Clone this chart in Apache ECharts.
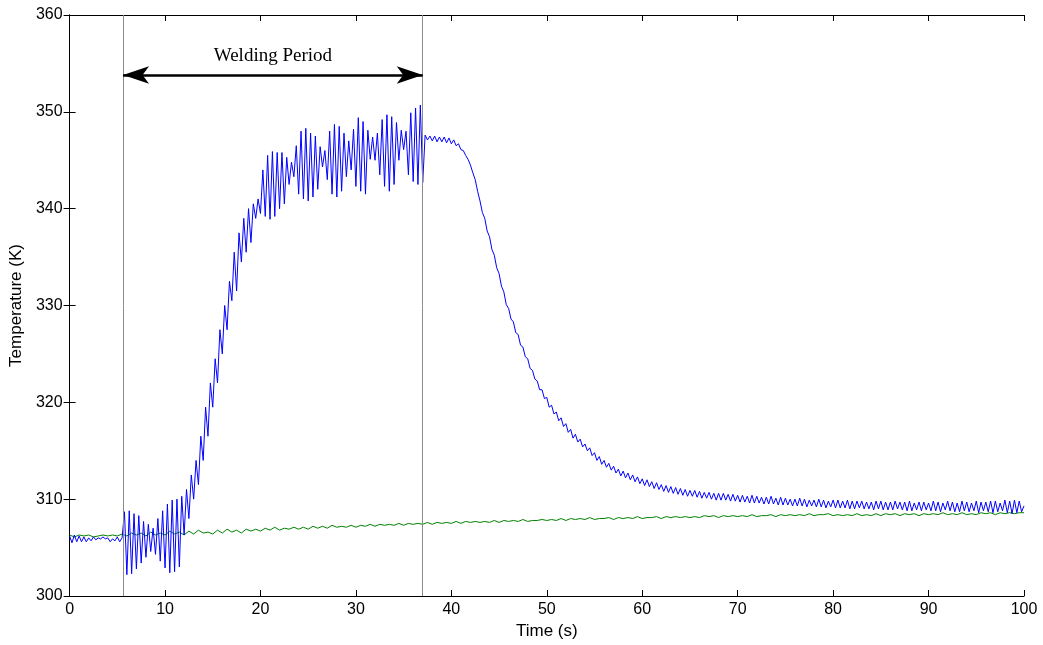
<!DOCTYPE html>
<html>
<head>
<meta charset="utf-8">
<script src="https://cdn.jsdelivr.net/npm/echarts@6/dist/echarts.min.js"></script>
<style>
html,body{margin:0;padding:0;background:#fff;}
#chart{width:1043px;height:645px;}
</style>
</head>
<body>
<div id="chart"></div>
<script>
// ---- data ----
const xTicks = [0, 10, 20, 30, 40, 50, 60, 70, 80, 90, 100];
const yTicks = [300, 310, 320, 330, 340, 350, 360];
const blueStep = 0.25;   // s between blue samples
const greenStep = 0.5;   // s between green samples
const weldingPeriod = [5.6, 37.0];   // s, grey vertical lines
const arrowLevel = 353.8;            // K, height of the double arrow
const weldingLabel = 'Welding Period';

const blueTemp = [
  306.2, 305.5, 306.3, 305.6,  306.2, 305.6, 306.1, 305.6,  306.0, 305.7, 306.1, 305.8,
  306.0, 305.9, 306.1, 305.9,  306.0, 305.6, 305.9, 305.7,  306.1, 305.6, 306.0, 308.7,
  302.2, 308.8, 302.3, 308.5,  302.8, 308.3, 303.4, 307.7,  304.0, 307.4, 304.6, 307.0,
  304.3, 308.0, 303.6, 308.8,  302.9, 309.5, 302.4, 309.9,  302.5, 310.0, 303.0, 310.3,
  306.3, 311.0, 308.0, 312.5,  310.0, 314.0, 311.5, 316.5,  314.0, 319.5, 316.5, 322.0,
  319.5, 324.5, 322.0, 327.5,  325.0, 330.0, 327.5, 332.5,  330.5, 335.5, 331.5, 337.5,
  334.5, 339.0, 335.5, 340.0,  336.5, 340.5, 339.0, 341.0,  339.5, 344.0, 339.2, 345.5,
  338.9, 345.9, 339.2, 345.8,  340.0, 345.8, 340.5, 345.3,  342.5, 344.8, 343.3, 346.5,
  341.5, 348.0, 341.0, 348.3,  340.8, 347.8, 341.2, 347.5,  342.0, 346.4, 344.3, 346.0,
  343.0, 348.0, 341.5, 348.7,  341.2, 348.5, 341.8, 347.8,  343.3, 347.0, 344.0, 348.2,
  342.3, 349.4, 341.8, 349.0,  341.5, 348.1, 345.1, 347.4,  345.0, 347.8, 343.5, 349.2,
  342.3, 349.7, 341.8, 349.5,  342.5, 348.9, 345.0, 348.1,  346.1, 348.0, 343.5, 349.9,
  342.8, 350.4, 342.5, 350.7,  342.7, 347.6, 347.1, 347.5,  347.0, 347.5, 346.9, 347.4,
  346.9, 347.4, 346.8, 347.3,  346.7, 347.1, 346.5, 346.7,  346.1, 346.0, 345.5, 345.1,
  344.5, 343.7, 343.0, 341.8,  340.8, 339.6, 339.0, 337.7,  337.1, 335.8, 335.2, 333.9,
  333.3, 332.0, 331.4, 330.1,  329.7, 328.6, 328.3, 327.2,  327.0, 325.9, 325.7, 324.7,
  324.5, 323.5, 323.3, 322.4,  322.2, 321.3, 321.3, 320.4,  320.5, 319.5, 319.7, 318.8,
  319.0, 318.1, 318.4, 317.5,  317.8, 316.9, 317.2, 316.3,  316.7, 315.9, 316.2, 315.4,
  315.7, 315.0, 315.3, 314.5,  314.8, 314.0, 314.4, 313.6,  314.0, 313.3, 313.7, 313.0,
  313.4, 312.7, 313.1, 312.4,  312.9, 312.2, 312.7, 312.0,  312.5, 311.8, 312.3, 311.6,
  312.1, 311.4, 312.0, 311.3,  311.8, 311.1, 311.7, 311.0,  311.5, 310.8, 311.4, 310.7,
  311.3, 310.6, 311.2, 310.5,  311.1, 310.4, 311.0, 310.3,  310.9, 310.3, 310.9, 310.2,
  310.8, 310.1, 310.7, 310.1,  310.7, 310.0, 310.6, 309.9,  310.6, 309.9, 310.6, 309.9,
  310.5, 309.8, 310.5, 309.8,  310.4, 309.7, 310.4, 309.7,  310.3, 309.6, 310.4, 309.6,
  310.3, 309.6, 310.2, 309.5,  310.2, 309.5, 310.3, 309.5,  310.1, 309.4, 310.2, 309.4,
  310.1, 309.4, 310.0, 309.3,  310.0, 309.3, 310.1, 309.3,  310.0, 309.2, 309.9, 309.3,
  309.9, 309.2, 310.0, 309.2,  309.9, 309.1, 309.8, 309.2,  309.9, 309.1, 309.9, 309.1,
  309.8, 309.1, 309.9, 309.0,  309.8, 309.0, 309.8, 309.1,  309.8, 309.0, 309.7, 309.0,
  309.7, 308.9, 309.8, 309.0,  309.8, 308.9, 309.7, 308.9,  309.7, 308.9, 309.8, 309.0,
  309.7, 308.9, 309.7, 308.8,  309.8, 308.8, 309.6, 308.9,  309.7, 308.8, 309.7, 308.9,
  309.6, 308.8, 309.8, 308.8,  309.7, 308.7, 309.6, 308.9,  309.8, 308.8, 309.7, 308.7,
  309.6, 308.7, 309.8, 308.8,  309.7, 308.7, 309.6, 308.8,  309.8, 308.6, 309.7, 308.8,
  309.7, 308.7, 309.8, 308.6,  309.8, 308.7, 309.6, 308.8,  309.9, 308.6, 309.8, 308.5,
  309.9, 308.6, 309.8, 308.7,  309.3
];

const greenTemp = [
  306.3, 306.1, 306.3, 306.2, 306.3, 306.1, 306.2, 306.3, 306.2, 306.3,
  306.2, 306.4, 306.2, 306.5, 306.3, 306.5, 306.2, 306.6, 306.3, 306.5,
  306.3, 306.7, 306.4, 306.6, 306.3, 306.7, 306.4, 306.8, 306.5, 306.6,
  306.4, 306.8, 306.5, 306.9, 306.6, 306.8, 306.5, 306.9, 306.7, 306.9,
  306.7, 307.0, 306.8, 307.1, 306.8, 307.0, 306.9, 307.1, 306.9, 307.1,
  306.9, 307.2, 307.0, 307.2, 307.0, 307.3, 307.1, 307.2, 307.1, 307.3,
  307.1, 307.3, 307.2, 307.4, 307.2, 307.4, 307.3, 307.4, 307.3, 307.5,
  307.3, 307.5, 307.4, 307.5, 307.4, 307.6, 307.4, 307.6, 307.5, 307.6,
  307.5, 307.7, 307.5, 307.7, 307.6, 307.7, 307.6, 307.7, 307.6, 307.8,
  307.6, 307.8, 307.7, 307.8, 307.7, 307.9, 307.7, 307.8, 307.8, 307.9,
  307.8, 307.9, 307.8, 308.0, 307.8, 308.0, 307.9, 308.0, 307.9, 308.1,
  307.9, 308.0, 308.0, 308.1, 307.9, 308.1, 308.0, 308.1, 308.0, 308.2,
  308.0, 308.1, 308.1, 308.2, 308.0, 308.2, 308.1, 308.2, 308.1, 308.2,
  308.1, 308.2, 308.1, 308.3, 308.2, 308.3, 308.1, 308.3, 308.2, 308.3,
  308.2, 308.3, 308.2, 308.4, 308.2, 308.3, 308.3, 308.4, 308.2, 308.4,
  308.3, 308.4, 308.3, 308.4, 308.3, 308.5, 308.3, 308.4, 308.4, 308.5,
  308.3, 308.4, 308.3, 308.4, 308.3, 308.5, 308.3, 308.4, 308.3, 308.5,
  308.3, 308.5, 308.4, 308.5, 308.3, 308.5, 308.4, 308.5, 308.3, 308.5,
  308.4, 308.5, 308.4, 308.6, 308.4, 308.5, 308.4, 308.6, 308.4, 308.5,
  308.4, 308.6, 308.5, 308.6, 308.4, 308.6, 308.5, 308.6, 308.5, 308.6,
  308.6
];

// ---- build series points (time comes from sample index) ----
const bluePoints = blueTemp.map((v, i) => [i * blueStep, v]);
const greenPoints = greenTemp.map((v, i) => [i * greenStep, v]);

const FONT = 'Liberation Sans';
const chart = echarts.init(document.getElementById('chart'), null, {renderer: 'canvas'});

const xMin = xTicks[0], xMax = xTicks[xTicks.length - 1];
const yMin = yTicks[0], yMax = yTicks[yTicks.length - 1];
const xInt = xTicks[1] - xTicks[0], yInt = yTicks[1] - yTicks[0];

const axisCommon = {
  axisLine: {show: true, lineStyle: {color: '#000', width: 1}},
  axisTick: {show: true, inside: true, length: 6, lineStyle: {color: '#000', width: 1}},
  splitLine: {show: false}
};

const greyLine = {color: '#8c8c8c', width: 1, type: 'solid'};

chart.setOption({
  animation: false,
  backgroundColor: '#fff',
  grid: {left: 69, right: 19, top: 15, bottom: 45},
  xAxis: [
    Object.assign({
      type: 'value', min: xMin, max: xMax, interval: xInt,
      name: 'Time (s)', nameLocation: 'middle', nameGap: 27,
      nameTextStyle: {fontFamily: FONT, fontSize: 17, color: '#000'},
      axisLabel: {fontFamily: FONT, fontSize: 16, color: '#000', margin: 6}
    }, axisCommon),
    Object.assign({
      type: 'value', position: 'top', min: xMin, max: xMax, interval: xInt,
      axisLabel: {show: false}
    }, axisCommon)
  ],
  yAxis: [
    Object.assign({
      type: 'value', min: yMin, max: yMax, interval: yInt,
      name: 'Temperature (K)', nameLocation: 'middle', nameGap: 41,
      nameTextStyle: {fontFamily: FONT, fontSize: 17, color: '#000'},
      axisLabel: {fontFamily: FONT, fontSize: 16, color: '#000', margin: 7}
    }, axisCommon),
    Object.assign({
      type: 'value', position: 'right', min: yMin, max: yMax, interval: yInt,
      axisLabel: {show: false}
    }, axisCommon)
  ],
  series: [
    {
      name: 'green', type: 'line', data: greenPoints, showSymbol: false, symbol: 'none',
      lineStyle: {color: '#008000', width: 1}, z: 2
    },
    {
      name: 'blue', type: 'line', data: bluePoints, showSymbol: false, symbol: 'none',
      lineStyle: {color: '#0000ff', width: 1}, z: 3,
      markLine: {
        silent: true, animation: false,
        symbol: ['none', 'none'],
        label: {show: false},
        data: [
          {xAxis: weldingPeriod[0], lineStyle: greyLine},
          {xAxis: weldingPeriod[1], lineStyle: greyLine},
          [
            {coord: [weldingPeriod[0], arrowLevel], symbol: 'arrow', symbolSize: [13, 26],
             lineStyle: {color: '#000', width: 2.5, type: 'solid'},
             label: {show: true, position: 'middle', formatter: weldingLabel,
                     fontFamily: 'Liberation Serif', fontSize: 19, color: '#000', distance: 10}},
            {coord: [weldingPeriod[1], arrowLevel], symbol: 'arrow', symbolSize: [13, 26]}
          ]
        ]
      }
    }
  ]
});
</script>
</body>
</html>
